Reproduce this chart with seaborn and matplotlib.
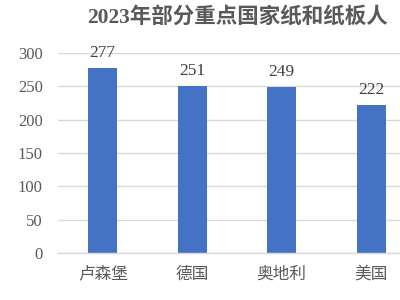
import matplotlib
matplotlib.use("Agg")
import matplotlib.pyplot as plt
import seaborn as sns
import pandas as pd

countries = ["卢森堡", "德国", "奥地利", "美国"]
values = [277, 251, 249, 222]
yticks = [0, 50, 100, 150, 200, 250, 300]
title = "2023年部分重点国家纸和纸板人"

sns.set_theme(style="white")
plt.rcParams['font.family'] = ['Liberation Serif', 'Noto Sans CJK SC', 'DejaVu Sans']

df = pd.DataFrame({"country": countries, "value": values})

fig = plt.figure(figsize=(4, 3), dpi=100)
ax = fig.add_axes([58/400, 47/300, 358/400, 200/300])
sns.barplot(data=df, x="country", y="value", color="#4472C4", saturation=1,
            width=0.32, ax=ax, edgecolor="none")
ax.set_ylim(0, 300)
ax.set_xlim(-0.5, 3.5)
ax.set_yticks(yticks)
ax.yaxis.grid(True, color="#D9D9D9", linewidth=1)
ax.set_axisbelow(True)
for s in ["left", "right", "top"]:
    ax.spines[s].set_visible(False)
ax.spines["bottom"].set_color("#D9D9D9")
ax.spines["bottom"].set_linewidth(1)
ax.set_xlabel("")
ax.set_ylabel("")
ax.tick_params(axis="y", length=0, pad=11, labelsize=12, labelcolor="#595959")
ax.tick_params(axis="x", length=0, pad=9, labelsize=12, labelcolor="#595959")
for lbl in ax.get_xticklabels():
    lbl.set_family(['Noto Sans CJK SC'])
    lbl.set_fontweight('light')
for c in ax.containers:
    ax.bar_label(c, labels=[str(v) for v in values], padding=5, fontsize=12.5, color="#404040")

fig.text(87/400, 1 - 17/300, title, ha="left", va="center", fontsize=15.5,
         fontweight="bold", color="#595959",
         family=['Liberation Serif', 'Noto Sans CJK SC'])

fig.savefig("out.png", dpi=100)
